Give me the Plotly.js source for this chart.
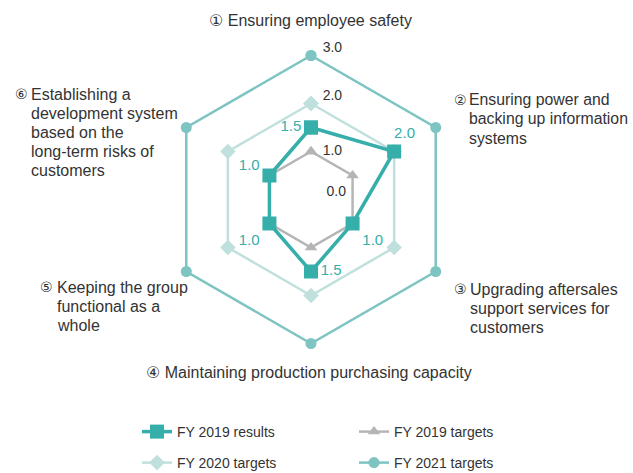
<!DOCTYPE html>
<html>
<head>
<meta charset="utf-8">
<script src="https://cdn.plot.ly/plotly-3.0.1.min.js"></script>
<style>html,body{margin:0;padding:0;background:#fff;}#chart{width:633px;height:473px;}</style>
</head>
<body>
<div id="chart"></div>
<script>
// Risk-response radar: results vs targets per item
const marks = ["①","②","③","④","⑤","⑥"];
const categories = [
  "Ensuring employee safety",
  "Ensuring power and backing up information systems",
  "Upgrading aftersales support services for customers",
  "Maintaining production purchasing capacity",
  "Keeping the group functional as a whole",
  "Establishing a development system based on the long-term risks of customers"
];
const wrapped = [
  ["Ensuring employee safety"],
  ["Ensuring power and","backing up information","systems"],
  ["Upgrading aftersales","support services for","customers"],
  ["Maintaining production purchasing capacity"],
  ["Keeping the group","functional as a","whole"],
  ["Establishing a","development system","based on the","long-term risks of","customers"]
];
const results2019 = [1.5, 2.0, 1.0, 1.5, 1.0, 1.0];
const targets2019 = [1.0, 1.0, 1.0, 1.0, 1.0, 1.0];
const targets2020 = [2.0, 2.0, 2.0, 2.0, 2.0, 2.0];
const targets2021 = [3.0, 3.0, 3.0, 3.0, 3.0, 3.0];
const radTicks = [0, 1, 2, 3];

const C = {res:"#36AEAA", t19:"#B5B5B8", t20:"#C0E0DE", t21:"#7DC4C2", txt:"#333333"};
const FONT = "'Liberation Sans', Arial, 'DejaVu Sans', sans-serif";
const W = 633, H = 473;
const px = x => x / W, py = y => 1 - y / H;
const close = a => a.concat([a[0]]);
const th = close(categories);
const sp = n => "\u00A0".repeat(n);

// per-point label placement for the results series
const resPos = ["middle left","top center","bottom right","middle right","bottom left","middle left"];
const resText = results2019.map((v,i)=>{
  const t = v.toFixed(1);
  if(i===1) return sp(5)+t;
  if(i===5) return t+"<br>"+sp(1);
  return t;
});

const traces = [
  {type:"scatterpolar", r:close(targets2021), theta:th, name:"FY 2021 targets", mode:"lines+markers",
   line:{color:C.t21, width:2.5}, marker:{symbol:"circle", size:11, color:C.t21},
   legend:"legend2", legendrank:2, hoverinfo:"skip"},
  {type:"scatterpolar", r:close(targets2020), theta:th, name:"FY 2020 targets", mode:"lines+markers",
   line:{color:C.t20, width:2.5}, marker:{symbol:"diamond", size:12, color:C.t20},
   legend:"legend2", legendrank:1, hoverinfo:"skip"},
  {type:"scatterpolar", r:close(targets2019), theta:th, name:"FY 2019 targets", mode:"lines+markers",
   line:{color:C.t19, width:2.5}, marker:{symbol:"triangle-up", size:11, color:C.t19},
   legend:"legend", legendrank:2, hoverinfo:"skip"},
  {type:"scatterpolar", r:close(results2019), theta:th, name:"FY 2019 results", mode:"lines+markers+text",
   line:{color:C.res, width:3.5}, marker:{symbol:"square", size:14, color:C.res},
   text:resText.concat([""]), textposition:resPos.concat(["middle left"]),
   textfont:{family:FONT, size:15, color:C.res},
   legend:"legend", legendrank:1, hoverinfo:"skip"},
  // radial scale labels along the first axis
  {type:"scatterpolar", r:radTicks, theta:radTicks.map(()=>categories[0]), mode:"text",
   text:radTicks.map((v,i)=>sp(i===0?4:3)+v.toFixed(1)),
   textposition:["top right","middle right","top right","top right"],
   textfont:{family:FONT, size:14, color:C.txt}, showlegend:false, hoverinfo:"skip"}
];

// category labels: circled number + hanging-indent lines
const labelPos = [
  {x:310, y:20, center:true},
  {dx:452, x:467, y:100, fs:15.8},
  {dx:452, x:468, y:289},
  {x:309, y:372, center:true},
  {dx:38, x:55, y:287},
  {dx:13, x:29, y:94}
];
const LINE = 19, FS = 16;
const annotations = [];
labelPos.forEach((p,i)=>{
  const fs = p.fs || FS;
  if(p.center){
    annotations.push({xref:"paper", yref:"paper", x:px(p.x), y:py(p.y), xanchor:"center", yanchor:"middle",
      showarrow:false, text:marks[i]+" "+wrapped[i][0], font:{family:FONT, size:fs, color:C.txt}});
    return;
  }
  annotations.push({xref:"paper", yref:"paper", x:px(p.dx), y:py(p.y), xanchor:"left", yanchor:"middle",
    showarrow:false, text:marks[i], font:{family:FONT, size:14, color:C.txt}});
  wrapped[i].forEach((ln,k)=>{
    annotations.push({xref:"paper", yref:"paper", x:px(p.x), y:py(p.y+k*LINE), xanchor:"left", yanchor:"middle",
      showarrow:false, text:ln, font:{family:FONT, size:fs, color:C.txt}});
  });
});

const cx = 311, cy = 199.5, R = 144;
const leg = y => ({orientation:"h", x:px(137), xanchor:"left", y:py(y), yanchor:"middle",
  entrywidth:172, entrywidthmode:"pixels", bgcolor:"rgba(0,0,0,0)",
  font:{family:FONT, size:14, color:C.txt}});

const layout = {
  width:W, height:H, margin:{l:0, r:0, t:0, b:0, autoexpand:false},
  paper_bgcolor:"#fff", plot_bgcolor:"#fff",
  font:{family:FONT, size:14, color:C.txt},
  polar:{
    domain:{x:[px(cx-R), px(cx+R)], y:[py(cy+R), py(cy-R)]},
    bgcolor:"rgba(0,0,0,0)",
    radialaxis:{range:[0,3], visible:false},
    angularaxis:{direction:"clockwise", rotation:90, showline:false, showgrid:false,
      showticklabels:false, ticks:""}
  },
  legend:leg(432),
  legend2:leg(463),
  annotations:annotations
};

Plotly.newPlot("chart", traces, layout, {displayModeBar:false, staticPlot:true});
</script>
</body>
</html>
